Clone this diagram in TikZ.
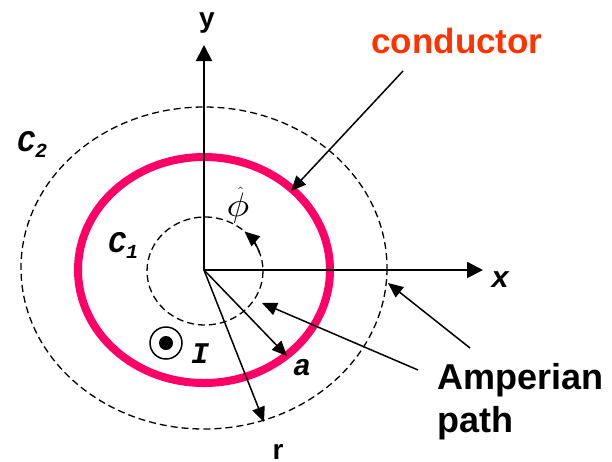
\documentclass[tikz,border=0pt]{standalone}
\usepackage{fontspec}
\setmainfont{Liberation Sans}
\newfontfamily\cour{Liberation Mono}
\usetikzlibrary{arrows.meta}
\definecolor{pinkc}{RGB}{255,0,102}
\definecolor{condc}{RGB}{255,51,0}
\begin{document}
\begin{tikzpicture}[x=1pt,y=-1pt,
 axis/.style={line width=1.8pt,-{Triangle[length=16pt,width=16pt]}},
 ptr/.style={line width=1.5pt,-{Triangle[length=15pt,width=13pt]}},
 dashc/.style={line width=1.3pt,dash pattern=on 7pt off 4pt},
 sanslbl/.style={font=\fontsize{28}{28}\selectfont\bfseries, inner sep=0pt},
 courlbl/.style={font=\fontsize{30}{30}\selectfont\cour\bfseries\itshape, inner sep=0pt}]
\useasboundingbox (0,0) rectangle (612,461);
\coordinate (O) at (204,270);
% Amperian paths and conductor
\draw[dashc] (204,268) ellipse [x radius=183, y radius=161];
\draw[dashc] (205,271) ellipse [x radius=58, y radius=54];
\draw[pinkc, line width=8pt] (204,270) ellipse [x radius=126, y radius=113];
% axes
\coordinate (ytip) at (204,45);
\coordinate (xtip) at (483,270);
\draw[axis] (O) -- (ytip);
\draw[axis] (O) -- (xtip);
% radial arrows
\coordinate (atip) at (287,356);
\coordinate (rtip) at (264,422);
\draw[ptr] (O) -- (atip);
\draw[ptr] (O) -- (rtip);
% phi arrow
\draw[ptr] (205,271) ++(-20:58 and 54) arc[start angle=-20, end angle=-47, x radius=58, y radius=54];
% pointer arrows
\coordinate (cs) at (403,71);
\coordinate (ct) at (291,191);
\draw[ptr] (cs) -- (ct);
\coordinate (a1s) at (470,348);
\coordinate (a1t) at (388,283);
\coordinate (a2s) at (418,370);
\coordinate (a2t) at (262,303);
\draw[ptr] (a1s) -- (a1t);
\draw[ptr] (a2s) -- (a2t);
% current
\node[circle, draw, line width=1.5pt, minimum size=32pt, inner sep=0pt] (cur) at (166,343) {};
\fill (cur.center) circle (7);
% labels
\node[sanslbl, anchor=base] (ylbl) at (207,27) {y};
\node[sanslbl, anchor=base] (rlbl) at (278,459) {r};
\node[courlbl, anchor=base] (xlbl) at (500,287) {x};
\node[courlbl, anchor=base] (albl) at (302,375) {a};
\node[courlbl, anchor=base] (Ilbl) at (200,363) {I};
\node[courlbl, anchor=base west] (c1) at (108,252) {C\raisebox{-6pt}{\fontsize{20}{20}\selectfont 1}};
\node[courlbl, anchor=base west] (c2) at (17,151) {C\raisebox{-6pt}{\fontsize{20}{20}\selectfont 2}};
\node[inner sep=0pt, align=center, font=\fontsize{10}{10}\selectfont] (phi) at (238,205) {\hspace{5pt}\scalebox{1.8}{$\hat{\ }$}\\[-8pt]\scalebox{3.8}[3.4]{$\phi$}};
\node[font=\fontsize{35}{35}\selectfont\bfseries, text=condc, anchor=base, inner sep=0pt] (cond) at (457,53) {conductor};
\node[font=\fontsize{36}{43}\selectfont\bfseries, align=left, anchor=north west, inner sep=0pt] (amp) at (437,363) {Amperian\\path};
\end{tikzpicture}
\end{document}
